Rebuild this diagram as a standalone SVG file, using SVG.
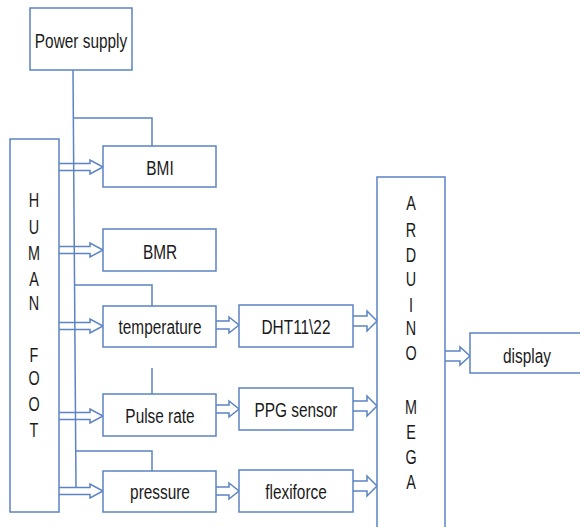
<svg xmlns="http://www.w3.org/2000/svg" width="580" height="527" viewBox="0 0 580 527">
<style>
.b{fill:#fff;stroke:#5b84c4;stroke-width:1.5}
.c{fill:none;stroke:#5b84c4;stroke-width:1.5;stroke-linejoin:miter}
.t{font-family:"Liberation Sans",Arial,sans-serif;font-size:20px;fill:#1a1a1a;text-anchor:middle}
</style>
<rect width="580" height="527" fill="#fff"/>
<g id="connectors">
<path class="c" d="M73 70 L76 488"/>
<path class="c" d="M73 118 H152 V146"/>
<path class="c" d="M74 285 H152 V306"/>
<path class="c" d="M152 368 V394"/>
<path class="c" d="M75 451 H152 V471"/>
<path class="c" d="M59 163.5 H90 V160 L103 167 L90 174 V170.5 H59"/>
<path class="c" d="M59 246.5 H90 V243 L103 250 L90 257 V253.5 H59"/>
<path class="c" d="M59 322.5 H90 V319 L103 326 L90 333 V329.5 H59"/>
<path class="c" d="M59 412.5 H90 V409 L103 416 L90 423 V419.5 H59"/>
<path class="c" d="M59 487.5 H90 V484 L103 491 L90 498 V494.5 H59"/>
<path class="c" d="M216 321 H229 V317 L239 325 L229 333 V329 H216"/>
<path class="c" d="M216 405 H229 V401 L239 409 L229 417 V413 H216"/>
<path class="c" d="M216 487 H229 V483 L239 491 L229 499 V495 H216"/>
<path class="c" d="M353 316 H367 V311 L377 321 L367 331 V326 H353"/>
<path class="c" d="M353 401 H367 V396 L377 406 L367 416 V411 H353"/>
<path class="c" d="M353 481 H367 V476 L377 486 L367 496 V491 H353"/>
<path class="c" d="M445 351 H460 V347 L470 356 L460 365 V361 H445"/>
</g>
<g id="power">
<rect class="b" x="30" y="8" width="102" height="62"/>
<text class="t" transform="translate(81,48) scale(0.77,1)">Power supply</text>
</g>
<g id="foot">
<rect class="b" x="10" y="139" width="49" height="373" style="fill:none"/>
<g class="t">
<text transform="translate(34,207) scale(0.72,1)">H</text>
<text transform="translate(34,234) scale(0.72,1)">U</text>
<text transform="translate(34,260) scale(0.72,1)">M</text>
<text transform="translate(34,286) scale(0.72,1)">A</text>
<text transform="translate(34,310) scale(0.72,1)">N</text>
<text transform="translate(34,362) scale(0.72,1)">F</text>
<text transform="translate(34,385) scale(0.72,1)">O</text>
<text transform="translate(34,411) scale(0.72,1)">O</text>
<text transform="translate(34,437) scale(0.72,1)">T</text>
</g>
</g>
<g id="bmi">
<rect class="b" x="103" y="146" width="113" height="41"/>
<text class="t" transform="translate(160,175) scale(0.77,1)">BMI</text>
</g>
<g id="bmr">
<rect class="b" x="103" y="229" width="113" height="42"/>
<text class="t" transform="translate(160,259) scale(0.77,1)">BMR</text>
</g>
<g id="temperature">
<rect class="b" x="103" y="306" width="113" height="41"/>
<text class="t" transform="translate(160,334) scale(0.77,1)">temperature</text>
</g>
<g id="pulse">
<rect class="b" x="103" y="394" width="113" height="42"/>
<text class="t" transform="translate(160,423) scale(0.77,1)">Pulse rate</text>
</g>
<g id="pressure">
<rect class="b" x="103" y="471" width="113" height="41"/>
<text class="t" transform="translate(160,499) scale(0.77,1)">pressure</text>
</g>
<g id="dht">
<rect class="b" x="239" y="305" width="114" height="42"/>
<text class="t" transform="translate(296,334) scale(0.77,1)">DHT11\22</text>
</g>
<g id="ppg">
<rect class="b" x="239" y="388" width="114" height="42"/>
<text class="t" transform="translate(296,417) scale(0.77,1)">PPG sensor</text>
</g>
<g id="flexiforce">
<rect class="b" x="239" y="470" width="114" height="42"/>
<text class="t" transform="translate(296,499) scale(0.77,1)">flexiforce</text>
</g>
<g id="arduino">
<rect class="b" x="377" y="177" width="68" height="360"/>
<g class="t">
<text transform="translate(411,210) scale(0.72,1)">A</text>
<text transform="translate(411,237) scale(0.72,1)">R</text>
<text transform="translate(411,262) scale(0.72,1)">D</text>
<text transform="translate(411,286) scale(0.72,1)">U</text>
<text transform="translate(411,312) scale(0.72,1)">I</text>
<text transform="translate(411,335) scale(0.72,1)">N</text>
<text transform="translate(411,360) scale(0.72,1)">O</text>
<text transform="translate(411,414) scale(0.72,1)">M</text>
<text transform="translate(411,439) scale(0.72,1)">E</text>
<text transform="translate(411,464) scale(0.72,1)">G</text>
<text transform="translate(411,489) scale(0.72,1)">A</text>
</g>
</g>
<g id="display">
<rect class="b" x="470" y="333" width="115" height="40"/>
<text class="t" transform="translate(527,363) scale(0.77,1)">display</text>
</g>
</svg>
